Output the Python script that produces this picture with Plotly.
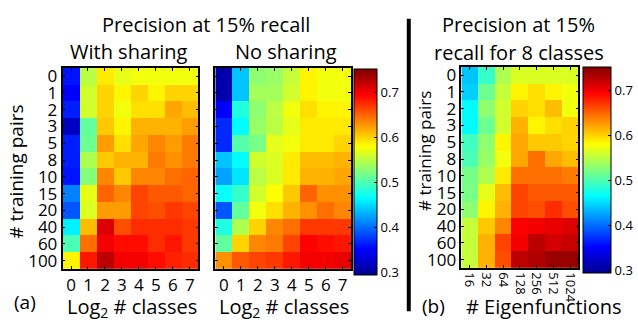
import plotly.graph_objects as go

rows = ["0", "1", "2", "3", "5", "8", "10", "15", "20", "40", "60", "100"]
classes = ["0", "1", "2", "3", "4", "5", "6", "7"]
eigen = ["16", "32", "64", "128", "256", "512", "1024"]

with_sharing = [
    [0.360, 0.550, 0.590, 0.570, 0.575, 0.575, 0.575, 0.575],
    [0.350, 0.560, 0.600, 0.585, 0.600, 0.585, 0.600, 0.600],
    [0.365, 0.560, 0.600, 0.575, 0.595, 0.595, 0.620, 0.610],
    [0.320, 0.510, 0.605, 0.585, 0.615, 0.615, 0.615, 0.625],
    [0.365, 0.515, 0.625, 0.595, 0.620, 0.635, 0.625, 0.640],
    [0.365, 0.545, 0.605, 0.615, 0.615, 0.640, 0.630, 0.640],
    [0.360, 0.525, 0.635, 0.605, 0.635, 0.635, 0.645, 0.650],
    [0.410, 0.570, 0.650, 0.635, 0.665, 0.655, 0.655, 0.650],
    [0.390, 0.565, 0.625, 0.625, 0.665, 0.660, 0.670, 0.665],
    [0.460, 0.610, 0.710, 0.660, 0.675, 0.675, 0.675, 0.670],
    [0.500, 0.645, 0.700, 0.690, 0.690, 0.675, 0.685, 0.670],
    [0.585, 0.685, 0.725, 0.700, 0.700, 0.690, 0.680, 0.675],
]

no_sharing = [
    [0.310, 0.440, 0.530, 0.535, 0.555, 0.585, 0.575, 0.575],
    [0.310, 0.440, 0.540, 0.540, 0.560, 0.585, 0.575, 0.575],
    [0.350, 0.480, 0.530, 0.550, 0.575, 0.595, 0.585, 0.585],
    [0.370, 0.465, 0.535, 0.550, 0.570, 0.590, 0.590, 0.590],
    [0.370, 0.505, 0.520, 0.570, 0.575, 0.590, 0.590, 0.600],
    [0.440, 0.465, 0.560, 0.565, 0.590, 0.610, 0.610, 0.615],
    [0.425, 0.455, 0.550, 0.565, 0.590, 0.615, 0.615, 0.620],
    [0.470, 0.490, 0.560, 0.580, 0.605, 0.650, 0.630, 0.630],
    [0.390, 0.510, 0.575, 0.595, 0.615, 0.630, 0.645, 0.635],
    [0.480, 0.545, 0.600, 0.635, 0.645, 0.670, 0.670, 0.670],
    [0.510, 0.600, 0.635, 0.640, 0.665, 0.695, 0.690, 0.685],
    [0.630, 0.655, 0.665, 0.670, 0.685, 0.700, 0.700, 0.705],
]

eigen_vals = [
    [0.440, 0.490, 0.545, 0.565, 0.565, 0.565, 0.565],
    [0.445, 0.515, 0.555, 0.585, 0.595, 0.585, 0.575],
    [0.465, 0.530, 0.560, 0.600, 0.595, 0.610, 0.575],
    [0.465, 0.515, 0.560, 0.615, 0.585, 0.595, 0.600],
    [0.495, 0.530, 0.585, 0.620, 0.605, 0.605, 0.600],
    [0.500, 0.535, 0.575, 0.620, 0.645, 0.620, 0.610],
    [0.520, 0.545, 0.590, 0.645, 0.645, 0.645, 0.640],
    [0.520, 0.570, 0.610, 0.665, 0.655, 0.655, 0.655],
    [0.530, 0.585, 0.615, 0.665, 0.660, 0.675, 0.660],
    [0.555, 0.605, 0.635, 0.695, 0.700, 0.705, 0.710],
    [0.555, 0.615, 0.665, 0.700, 0.725, 0.715, 0.720],
    [0.555, 0.615, 0.660, 0.725, 0.730, 0.740, 0.740],
]

cbar_ticks = [0.3, 0.4, 0.5, 0.6, 0.7]

W, H = 638, 325
FONT = "Open Sans"

jet = [[0.0, "#00008F"], [0.125, "#0000FF"], [0.375, "#00FFFF"],
       [0.625, "#FFFF00"], [0.875, "#FF0000"], [1.0, "#800000"]]

def px(x0, x1):
    return [x0 / W, x1 / W]

def py(top, bottom):
    return [(H - bottom) / H, (H - top) / H]

fig = go.Figure()
fig.add_trace(go.Heatmap(z=with_sharing, x=classes, y=rows, coloraxis="coloraxis",
                         xaxis="x", yaxis="y"))
fig.add_trace(go.Heatmap(z=no_sharing, x=classes, y=rows, coloraxis="coloraxis",
                         xaxis="x2", yaxis="y2"))
fig.add_trace(go.Heatmap(z=eigen_vals, x=eigen, y=rows, coloraxis="coloraxis2",
                         xaxis="x3", yaxis="y3"))

axis_common = dict(showline=True, linecolor="black", linewidth=1.5, mirror="ticks",
                   ticks="inside", ticklen=3, tickcolor="black", type="category",
                   showgrid=False, zeroline=False, tickmode="array")
tf = dict(family=FONT, size=17, color="black")

cb_common = dict(lenmode="pixels", len=206, xanchor="left", yanchor="top",
                 xpad=0, ypad=0, outlinecolor="black", outlinewidth=1,
                 tickvals=cbar_ticks, ticktext=[str(t) for t in cbar_ticks],
                 ticks="inside", ticklen=3, tickcolor="black",
                 tickfont=dict(family=FONT, size=13, color="black"))

fig.update_layout(
    width=W, height=H, margin=dict(l=0, r=0, t=0, b=0),
    paper_bgcolor="white", plot_bgcolor="white",
    font=dict(family=FONT, color="black"),
    xaxis=dict(domain=px(63, 200), anchor="y", tickvals=classes, ticktext=classes,
               tickfont=tf, **axis_common),
    yaxis=dict(domain=py(65, 270), anchor="x", autorange="reversed",
               tickvals=rows, ticktext=rows, tickfont=tf, **axis_common),
    xaxis2=dict(domain=px(217, 354), anchor="y2", tickvals=classes, ticktext=classes,
                tickfont=tf, **axis_common),
    yaxis2=dict(domain=py(65, 270), anchor="x2", autorange="reversed",
                tickvals=rows, ticktext=rows, showticklabels=False, tickfont=tf,
                **axis_common),
    xaxis3=dict(domain=px(465, 583), anchor="y3", tickangle=90,
                tickvals=eigen, ticktext=eigen,
                tickfont=dict(family=FONT, size=13, color="black"), **axis_common),
    yaxis3=dict(domain=py(64, 269), anchor="x3", autorange="reversed",
                tickvals=rows, ticktext=rows, tickfont=tf, **axis_common),
    coloraxis=dict(colorscale=jet, cmin=0.295, cmax=0.752,
                   colorbar=dict(x=357 / W, y=(H - 66) / H, thickness=23, **cb_common)),
    coloraxis2=dict(colorscale=jet, cmin=0.295, cmax=0.752,
                    colorbar=dict(x=588 / W, y=(H - 64) / H, thickness=28, **cb_common)),
    showlegend=False,
)

def ann(text, x, y, size=17, angle=0, xanchor="center"):
    fig.add_annotation(text=text, x=x / W, y=(H - y) / H, xref="paper", yref="paper",
                       showarrow=False, textangle=angle, xanchor=xanchor, yanchor="middle",
                       font=dict(family=FONT, size=size, color="black"))

ann("Precision at 15% recall", 208, 21, size=20)
ann("With sharing", 130, 48, size=20)
ann("No sharing", 288, 48, size=20)
ann("Precision at 15%", 523, 21, size=20)
ann("recall for 8 classes", 523, 49, size=20)
ann("Log<sub>2</sub> # classes", 133, 309, size=20)
ann("Log<sub>2</sub> # classes", 286, 309, size=20)
ann("(a)", 25, 304, size=19)
ann("(b)", 437, 308, size=19)
ann("# Eigenfunctions", 548, 308, size=20)
ann("# training pairs", 16, 171, size=19, angle=-90)
ann("# training pairs", 428, 150, size=17, angle=-90)

fig.add_shape(type="line", xref="paper", yref="paper", x0=412 / W, x1=412 / W,
              y0=(H - 313) / H, y1=(H - 15) / H, line=dict(color="black", width=4))

fig.write_html("out.html", config={"displayModeBar": False},
               post_script="document.body.style.margin='0px';"
                           "document.body.style.overflow='hidden';")
